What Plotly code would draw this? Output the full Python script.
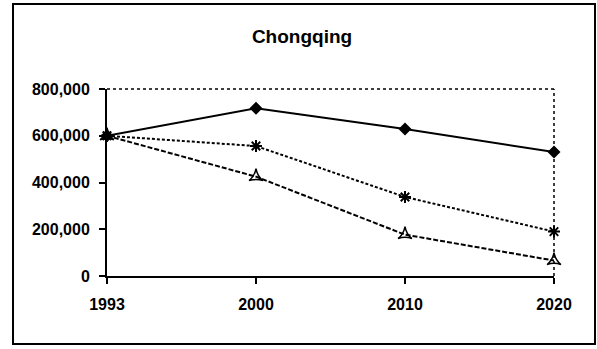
import plotly.graph_objects as go

years = ["1993", "2000", "2010", "2020"]
series_a = [600000, 718000, 629000, 530000]
series_b = [600000, 556000, 338000, 190000]
series_c = [600000, 425000, 177000, 66000]
y_ticks = [0, 200000, 400000, 600000, 800000]

W, H = 597, 349
L, R, T, B = 107, 43, 89, 73

fig = go.Figure()
fig.add_trace(go.Scatter(x=years, y=series_a, mode="lines+markers",
                         line=dict(color="black", width=2),
                         marker=dict(symbol="diamond", size=10, color="black"),
                         cliponaxis=False, showlegend=False))
fig.add_trace(go.Scatter(x=years, y=series_b, mode="lines+markers",
                         line=dict(color="black", width=2, dash="3px,2px"),
                         marker=dict(symbol="asterisk-open", size=10, color="black",
                                     line=dict(width=2, color="black")),
                         cliponaxis=False, showlegend=False))
fig.add_trace(go.Scatter(x=years, y=series_c, mode="lines+markers",
                         line=dict(color="black", width=2, dash="5px,2px"),
                         marker=dict(symbol="star-triangle-up-open", size=10, color="black",
                                     line=dict(width=1.5, color="black")),
                         cliponaxis=False, showlegend=False))

pw = W - L - R
ph = H - T - B
def px_x(p):
    return (p - L) / pw
def px_y(p):
    return (H - B - p) / ph

shapes = [
    # dotted top and right edges of plot area
    dict(type="line", xref="paper", yref="paper", x0=0, x1=1, y0=1, y1=1,
         line=dict(color="black", width=1.5, dash="dot")),
    dict(type="line", xref="paper", yref="paper", x0=1, x1=1, y0=0, y1=1,
         line=dict(color="black", width=1.5, dash="dot")),
    # outer frame
    dict(type="rect", xref="paper", yref="paper",
         x0=px_x(13), x1=px_x(595), y0=px_y(344), y1=px_y(4),
         line=dict(color="black", width=2), layer="below"),
]

fig.update_layout(
    width=W, height=H,
    margin=dict(l=L, r=R, t=T, b=B),
    paper_bgcolor="white", plot_bgcolor="white",
    font=dict(family="Liberation Sans, Arial, sans-serif", color="black"),
    title=dict(text="<b>Chongqing</b>", x=302 / W, xanchor="center",
               y=1 - 36 / H, yanchor="middle", yref="container",
               font=dict(size=19, color="black")),
    shapes=shapes,
    xaxis=dict(type="category", range=[0, 3], showgrid=False, zeroline=False,
               showline=True, linecolor="black", linewidth=2,
               ticks="outside", ticklen=6, tickwidth=1.5, tickcolor="black",
               tickfont=dict(size=16, weight="bold"), ticklabelstandoff=7),
    yaxis=dict(range=[0, 800000], tickvals=y_ticks, tickformat=",",
               showgrid=False, zeroline=False,
               showline=True, linecolor="black", linewidth=2,
               ticks="outside", ticklen=6, tickwidth=1.5, tickcolor="black",
               tickfont=dict(size=16, weight="bold"), ticklabelstandoff=6),
)

fig.write_html("out.html", config={"displayModeBar": False},
               post_script="document.body.style.margin='0';document.body.style.padding='0';")
